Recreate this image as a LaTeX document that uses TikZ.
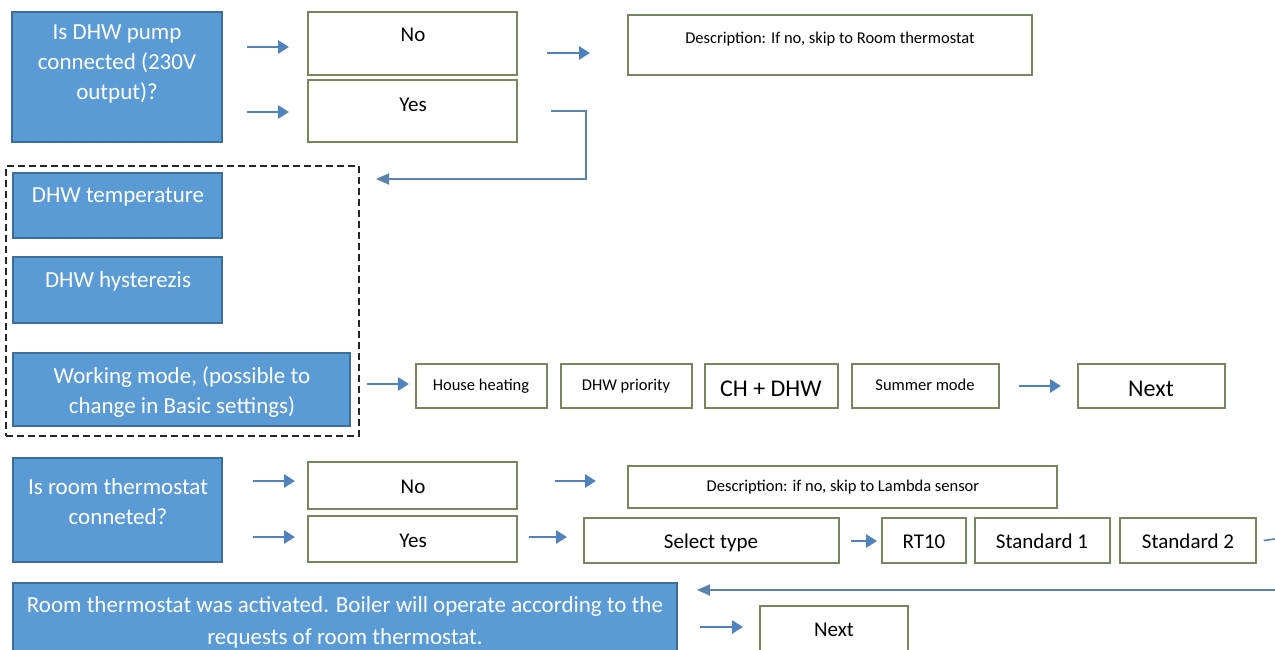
\documentclass[tikz,border=0pt]{standalone}
\usepackage{fontspec}
\setmainfont{Carlito}
\usetikzlibrary{arrows.meta,fit}
\definecolor{bfill}{HTML}{5B9BD5}
\definecolor{bdraw}{HTML}{3E6D99}
\definecolor{gdraw}{RGB}{120,134,96}
\definecolor{arrowc}{HTML}{4F81BD}
\definecolor{linkc}{HTML}{5A82AE}
\tikzset{
 bluebox/.style={draw=bdraw, fill=bfill, line width=1.5pt, inner sep=0pt, rectangle},
 whitebox/.style={draw=gdraw, fill=white, line width=1.4pt, inner sep=0pt, rectangle},
 dashbox/.style={draw=black!85, dash pattern=on 7pt off 4pt, line width=1.3pt, inner sep=0pt, rectangle},
 btext/.style={text=white, align=center, font=\fontsize{23}{30}\selectfont, inner sep=0pt},
 wtext/.style={text=black, font=\fontsize{21}{25}\selectfont, inner sep=0pt, text height=14pt, text depth=0pt},
 ltext/.style={text=black, font=\fontsize{24}{28}\selectfont, inner sep=0pt, text height=16pt, text depth=0pt},
 stext/.style={text=black, font=\fontsize{16.5}{20}\selectfont, inner sep=0pt, text height=11pt, text depth=0pt},
 dtext/.style={text=black, font=\fontsize{16.5}{19}\selectfont, inner sep=0pt, text height=11pt, text depth=0pt},
 flow/.style={draw=arrowc, line width=2.8pt, -{Triangle[length=11pt,width=13pt]}},
 link/.style={draw=linkc, line width=1.6pt},
 linkarrow/.style={draw=linkc, line width=1.8pt, -{Triangle[length=13pt,width=11pt]}},
}
\begin{document}
\begin{tikzpicture}[x=1pt,y=-1pt]
\useasboundingbox (0,0) rectangle (1275,650);
\clip (0,0) rectangle (1275,650);
\fill[white] (0,0) rectangle (1275,650);

% ---- Row 1: DHW pump question
\node[bluebox, fit={(12,12) (222,142)}] (q1) {};
\node[btext] (q1t) at (117,64) {Is DHW pump\\connected (230V\\output)?};
\node[whitebox, fit={(308,12) (517,75)}] (no1) {};
\node[wtext] (no1t) at (413,35) {No};
\node[whitebox, fit={(308,80) (517,142)}] (yes1) {};
\node[wtext] (yes1t) at (413,105) {Yes};
\node[whitebox, fit={(628,15) (1032,75)}] (desc1) {};
\node[dtext] (desc1t) at (830,38) {Description: If no, skip to Room thermostat};

\coordinate (a1s) at (247,47);  \coordinate (a1e) at (289,47);
\coordinate (a2s) at (247,112); \coordinate (a2e) at (289,112);
\coordinate (a3s) at (547,53);  \coordinate (a3e) at (590,53);
\draw[flow] (a1s) -- (a1e);
\draw[flow] (a2s) -- (a2e);
\draw[flow] (a3s) -- (a3e);
\coordinate (ys) at (551,111);
\coordinate (ye) at (376,179);
\draw[linkarrow] (ys) -- (586,111) -- (586,179) -- (ye);

% ---- Row 2: DHW settings group
\node[dashbox, fit={(6,166) (359,436)}] (grp) {};
\node[bluebox, fit={(13,173) (222,238)}] (temp) {};
\node[btext] (tempt) at (118,197) {DHW temperature};
\node[bluebox, fit={(13,257) (222,323)}] (hyst) {};
\node[btext] (hystt) at (118,281) {DHW hysterezis};
\node[bluebox, fit={(13,353) (350,426)}] (mode) {};
\node[btext] (modet) at (182,392) {Working mode, (possible to\\change in Basic settings)};

\node[whitebox, fit={(416,364) (547,408)}] (hh) {};
\node[stext] (hht) at (481,385) {House heating};
\node[whitebox, fit={(561,364) (692,408)}] (dp) {};
\node[stext] (dpt) at (626,385) {DHW priority};
\node[whitebox, fit={(705,364) (838,408)}] (ch) {};
\node[ltext] (cht) at (771,388) {CH + DHW};
\node[whitebox, fit={(852,364) (999,408)}] (sm) {};
\node[stext] (smt) at (925,385) {Summer mode};
\node[whitebox, fit={(1078,364) (1225,408)}] (next1) {};
\node[ltext] (next1t) at (1151,388) {Next};

\coordinate (a4s) at (367,384);  \coordinate (a4e) at (409,384);
\coordinate (a5s) at (1019,386); \coordinate (a5e) at (1061,386);
\draw[flow] (a4s) -- (a4e);
\draw[flow] (a5s) -- (a5e);

% ---- Row 3: room thermostat
\node[bluebox, fit={(13,458) (222,562)}] (q2) {};
\node[btext] (q2t) at (118,502) {Is room thermostat\\conneted?};
\node[whitebox, fit={(308,462) (517,509)}] (no2) {};
\node[wtext] (no2t) at (413,486) {No};
\node[whitebox, fit={(308,516) (517,562)}] (yes2) {};
\node[wtext] (yes2t) at (413,540) {Yes};
\node[whitebox, fit={(628,466) (1057,508)}] (desc2) {};
\node[dtext] (desc2t) at (843,486) {Description: if no, skip to Lambda sensor};
\node[whitebox, fit={(584,518) (839,563)}] (sel) {};
\node[wtext] (selt) at (711,541) {Select type};
\node[whitebox, fit={(882,518) (966,563)}] (rt) {};
\node[wtext] (rtt) at (924,541) {RT10};
\node[whitebox, fit={(975,518) (1110,563)}] (s1) {};
\node[wtext] (s1t) at (1042,541) {Standard 1};
\node[whitebox, fit={(1120,518) (1256,563)}] (s2) {};
\node[wtext] (s2t) at (1188,541) {Standard 2};

\coordinate (b1s) at (253,481); \coordinate (b1e) at (295,481);
\coordinate (b2s) at (253,537); \coordinate (b2e) at (295,537);
\coordinate (b3s) at (555,481); \coordinate (b3e) at (596,481);
\coordinate (b4s) at (529,537); \coordinate (b4e) at (567,537);
\coordinate (b5s) at (851,541); \coordinate (b5e) at (877,541);
\draw[flow] (b1s) -- (b1e);
\draw[flow] (b2s) -- (b2e);
\draw[flow] (b3s) -- (b3e);
\draw[flow] (b4s) -- (b4e);
\draw[flow] (b5s) -- (b5e);
\coordinate (s2out) at (1275,539);
\draw[link] ([xshift=7pt]s2.east) -- (s2out);
\coordinate (rets) at (1276,590);
\coordinate (rete) at (697,590);
\draw[linkarrow] (rets) -- (rete);

% ---- Row 4: activation message
\node[bluebox, fit={(13,583) (677,680)}] (act) {};
\node[btext, font=\fontsize{23}{32}\selectfont] (actt) at (345,622) {Room thermostat was activated. Boiler will operate according to the\\requests of room thermostat.};
\node[whitebox, fit={(760,606) (908,680)}] (next2) {};
\node[wtext] (next2t) at (834,629) {Next};
\coordinate (c1s) at (700,627); \coordinate (c1e) at (743,627);
\draw[flow] (c1s) -- (c1e);
\end{tikzpicture}
\end{document}
